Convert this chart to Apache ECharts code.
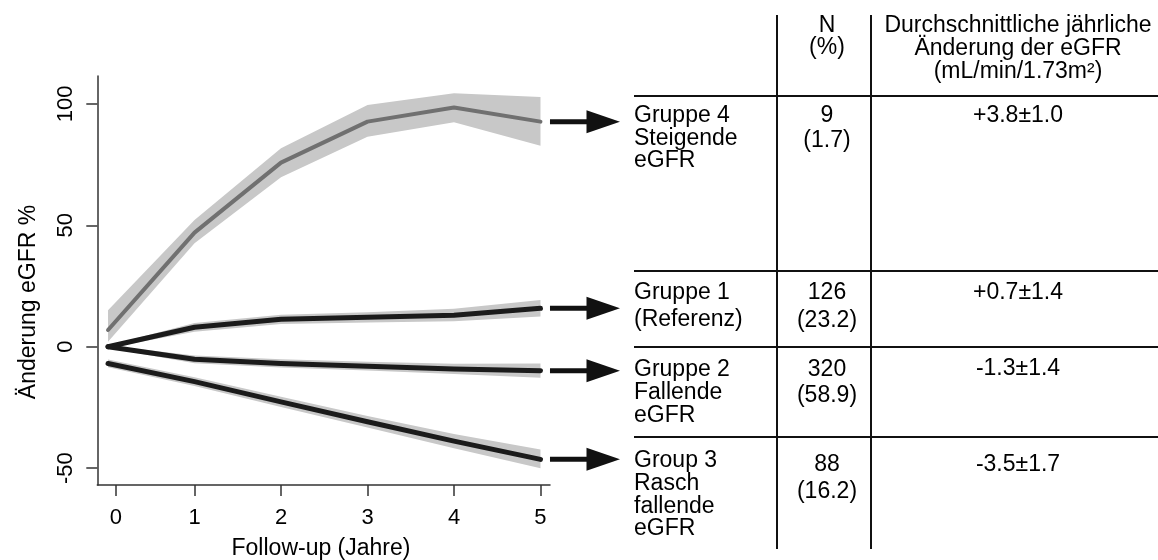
<!DOCTYPE html>
<html><head><meta charset="utf-8">
<script src="https://cdn.jsdelivr.net/npm/echarts@6/dist/echarts.min.js"></script>
<style>html,body{margin:0;padding:0;background:#fff}#c{width:1158px;height:560px}</style>
</head><body><div id="c"></div>
<script>
// ---------- data ----------
const years = [0, 1, 2, 3, 4, 5];

const g4Mean = [6.9, 47.0, 75.8, 92.7, 98.5, 92.7];
const g4Low  = [2.0, 42.6, 69.8, 86.5, 92.4, 82.8];
const g4High = [15.0, 52.2, 81.7, 99.6, 104.4, 102.8];

const g1Mean = [0, 8.0, 11.3, 12.1, 13.0, 15.8];
const g1Low  = [-0.5, 6.2, 9.4, 10.0, 10.5, 12.4];
const g1High = [0.5, 9.8, 13.2, 14.2, 15.6, 19.2];

const g2Mean = [0, -5.2, -6.9, -8.0, -9.2, -9.9];
const g2Low  = [-0.5, -6.8, -8.6, -9.8, -11.2, -12.8];
const g2High = [0.5, -3.6, -5.2, -6.2, -7.0, -6.9];

const g3Mean = [-6.9, -14.4, -22.7, -30.9, -38.9, -46.4];
const g3Low  = [-8.5, -16.2, -24.8, -33.3, -41.8, -50.1];
const g3High = [-5.3, -12.6, -20.6, -28.5, -36.0, -42.3];

const xTickValues = [0.09, 1, 2, 3, 4, 5];
const xTickLabels = ['0', '1', '2', '3', '4', '5'];
const yTickValues = [-50, 0, 50, 100];

const xTitle = 'Follow-up (Jahre)';
const yTitle = 'Änderung eGFR %';

const headerN = ['N', '(%)'];
const headerChange = ['Durchschnittliche jährliche', 'Änderung der eGFR', '(mL/min/1.73m²)'];
const rowLabels = [
  ['Gruppe 4', 'Steigende', 'eGFR'],
  ['Gruppe 1', '(Referenz)'],
  ['Gruppe 2', 'Fallende', 'eGFR'],
  ['Group 3', 'Rasch', 'fallende', 'eGFR']
];
const nCounts = ['9', '126', '320', '88'];
const nPercents = ['(1.7)', '(23.2)', '(58.9)', '(16.2)'];
const annualChange = ['+3.8±1.0', '+0.7±1.4', '-1.3±1.4', '-3.5±1.7'];

// ---------- chart ----------
const FONT = '"Liberation Sans", Arial, Helvetica, sans-serif';
const BAND = '#c8c8c8';
const DARK = '#1b1b1b';
const GREY_LINE = '#707070';
const AXIS = '#333';
const TEXT = '#000';

const groups = [
  { mean: g4Mean, low: g4Low, high: g4High, color: GREY_LINE, width: 4 },
  { mean: g1Mean, low: g1Low, high: g1High, color: DARK, width: 5 },
  { mean: g2Mean, low: g2Low, high: g2High, color: DARK, width: 5 },
  { mean: g3Mean, low: g3Low, high: g3High, color: DARK, width: 5 }
];

const chart = echarts.init(document.getElementById('c'), null, { renderer: 'canvas' });

const series = [];
groups.forEach(function (g) {
  series.push({
    type: 'custom',
    silent: true,
    z: 1,
    data: years.map(function (t, i) { return [t, g.low[i], g.high[i]]; }),
    renderItem: function (params, api) {
      if (params.dataIndex !== 0) return null;
      const pts = [];
      for (let i = 0; i < years.length; i++) pts.push(api.coord([years[i], g.high[i]]));
      for (let i = years.length - 1; i >= 0; i--) pts.push(api.coord([years[i], g.low[i]]));
      return { type: 'polygon', shape: { points: pts }, style: { fill: BAND, stroke: null } };
    }
  });
});
groups.forEach(function (g) {
  series.push({
    type: 'line',
    silent: true,
    z: 3,
    symbol: 'none',
    data: years.map(function (t, i) { return [t, g.mean[i]]; }),
    lineStyle: { color: g.color, width: g.width, cap: 'round', join: 'round' }
  });
});

chart.setOption({
  animation: false,
  backgroundColor: '#fff',
  grid: { left: 97.3, top: 76, width: 452.7, height: 409, containLabel: false },
  xAxis: {
    type: 'value',
    min: -0.124, max: 5.11,
    axisLine: { show: true, onZero: false, lineStyle: { color: AXIS, width: 1.5 } },
    axisTick: { show: true, length: 11, customValues: xTickValues, lineStyle: { color: AXIS, width: 1.5 } },
    axisLabel: {
      customValues: xTickValues, margin: 22,
      fontFamily: FONT, fontSize: 22, color: TEXT,
      formatter: function (v) { return xTickLabels[xTickValues.indexOf(v)]; }
    },
    splitLine: { show: false }
  },
  yAxis: {
    type: 'value',
    min: -56.96, max: 111.5,
    axisLine: { show: true, onZero: false, lineStyle: { color: AXIS, width: 1.5 } },
    axisTick: { show: true, length: 11, customValues: yTickValues, lineStyle: { color: AXIS, width: 1.5 } },
    axisLabel: {
      customValues: yTickValues, margin: 20, rotate: 90,
      fontFamily: FONT, fontSize: 22, color: TEXT
    },
    splitLine: { show: false }
  },
  series: series
});

// ---------- annotations (arrows + table) ----------
const gfx = [];
function txt(x, y, s, align, size) {
  gfx.push({ type: 'text', x: x, y: y, silent: true,
    style: { text: s, fontFamily: FONT, fontSize: size || 23, fill: TEXT, align: align, verticalAlign: 'middle' } });
}
function line(x1, y1, x2, y2, w) {
  gfx.push({ type: 'line', silent: true, shape: { x1: x1, y1: y1, x2: x2, y2: y2 },
    style: { stroke: '#111', lineWidth: w || 2 } });
}

// axis titles
txt(321, 549, xTitle, 'center', 23);
gfx.push({ type: 'text', x: 29, y: 302, rotation: Math.PI / 2, silent: true,
  style: { text: yTitle, fontFamily: FONT, fontSize: 23, fill: TEXT, align: 'center', verticalAlign: 'middle' } });

// arrows from each line end
groups.forEach(function (g) {
  const p = chart.convertToPixel({ gridIndex: 0 }, [years[years.length - 1], g.mean[g.mean.length - 1]]);
  const x0 = p[0], y = p[1];
  line(x0 + 9.5, y, x0 + 48, y, 5);
  gfx.push({ type: 'polygon', silent: true,
    shape: { points: [[x0 + 46, y - 11.5], [x0 + 79.5, y], [x0 + 46, y + 11.5]] },
    style: { fill: '#111' } });
});

// table grid
const colX = [777, 871];
colX.forEach(function (x) { line(x, 15, x, 549, 2); });
[96, 271, 347, 437].forEach(function (y) { line(634, y, 1158, y, 2); });

// header
const nCenter = 827, chCenter = 1018, labelLeft = 634;
const headerNY = [26, 48];
headerN.forEach(function (s, i) { txt(nCenter, headerNY[i], s, 'center'); });
const headerChY = [26, 49, 72];
headerChange.forEach(function (s, i) { txt(chCenter, headerChY[i], s, 'center'); });

// rows
const rowLabelY = [[116, 139, 161], [293, 320], [369.5, 392.5, 415.5], [461, 484, 507, 529]];
const rowNY = [[116, 141], [293, 321], [369.5, 396], [465, 492]];
const rowChY = [116, 293, 369, 465];
rowLabels.forEach(function (lines, r) {
  lines.forEach(function (s, i) { txt(labelLeft, rowLabelY[r][i], s, 'left'); });
  txt(nCenter, rowNY[r][0], nCounts[r], 'center');
  txt(nCenter, rowNY[r][1], nPercents[r], 'center');
  txt(chCenter, rowChY[r], annualChange[r], 'center');
});

chart.setOption({ graphic: { elements: gfx } });
</script>
</body></html>
